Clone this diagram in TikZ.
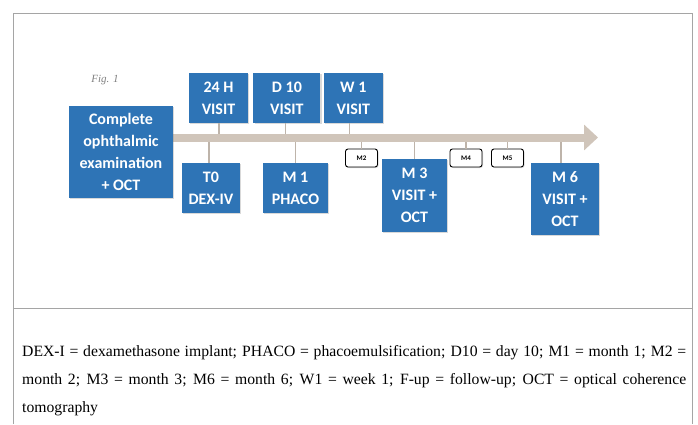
\documentclass[tikz,border=0pt]{standalone}
\usepackage{fontspec}
\setmainfont{Liberation Serif}
\newfontfamily\boxfont{Carlito}
\usetikzlibrary{positioning,shadows,arrows.meta}

\definecolor{visitBlue}{RGB}{46,116,182}
\definecolor{timeTan}{RGB}{208,197,186}
\definecolor{tickTan}{RGB}{190,180,170}
\definecolor{frameGray}{RGB}{165,165,165}

\tikzset{
    visit/.style = {rectangle, fill=visitBlue, text=white,
        inner sep=0pt, align=center,
        font=\boxfont\bfseries\fontsize{16}{22}\selectfont,
        drop shadow={opacity=0.3, shadow xshift=1.2pt, shadow yshift=-1.2pt}},
    monthTag/.style = {rectangle, rounded corners=2.5pt, draw=black,
        line width=0.9pt, fill=white, inner sep=0pt,
        minimum width=32pt, minimum height=18pt,
        font=\boxfont\bfseries\fontsize{7}{8}\selectfont,
        drop shadow={opacity=0.3, shadow xshift=1pt, shadow yshift=-1pt}},
    tick/.style = {draw=tickTan, line width=1.3pt},
    timeline/.style = {draw=timeTan, line width=8pt,
        -{Triangle[length=14pt,width=25pt]}},
}
\tikzstyle{frame} = [draw=frameGray, line width=1pt]

\begin{document}
\begin{tikzpicture}[x=1pt, y=-1pt]
    \useasboundingbox (0,0) rectangle (698,424);

    % frame of the figure
    \draw [frame] (13.5,424) |- (692.5,13.5) -- (692.5,424);
    \draw [frame] (13.5,308.5) -- (692.5,308.5);

    \node (figLabel) at (105,80) [font=\itshape\fontsize{11}{12}\selectfont, text=gray] {Fig. 1};

    % time line
    \coordinate (lineStart) at (150,137.5);
    \coordinate (lineEnd) at (598,137.5);
    \coordinate (barTop) at (0,133.5);
    \coordinate (barBottom) at (0,141.5);
    \draw [timeline] (lineStart) -- (lineEnd);

    % visit blocks
    \node (exam) [visit, minimum width=104pt, minimum height=92pt] at (121,152) {Complete\\ophthalmic\\examination\\+ OCT};

    \node (hourVisit) [visit, minimum width=59pt, minimum height=50pt] at (218.5,98) {24 H\\VISIT};
    \node (dayVisit) [visit, minimum width=67pt, minimum height=50pt, right=5pt of hourVisit] {D 10\\VISIT};
    \node (weekVisit) [visit, minimum width=59pt, minimum height=50pt, right=3pt of dayVisit] {W 1\\VISIT};

    \node (dexInj) [visit, minimum width=58pt, minimum height=50pt] at (211,188) {T0\\DEX-IV};
    \node (phaco) [visit, minimum width=65pt, minimum height=50pt] at (295.5,188) {M 1\\PHACO};
    \node (monthThree) [visit, minimum width=65pt, minimum height=73pt] at (414.5,195.5) {M 3\\VISIT +\\OCT};
    \node (monthSix) [visit, minimum width=68pt, minimum height=72pt] at (565,199) {M 6\\VISIT +\\OCT};

    % follow-up tags
    \node (monthTwo) [monthTag] at (361.5,158) {M2};
    \node (monthFour) [monthTag] at (466,158) {M4};
    \node (monthFive) [monthTag] at (507.5,158) {M5};

    %% ticks to the time line
    \draw [tick] ([xshift=0.5pt]hourVisit.south) -- ([xshift=0.5pt]hourVisit.south |- barTop);
    \draw [tick] ([xshift=-1.5pt]dayVisit.south) -- ([xshift=-1.5pt]dayVisit.south |- barTop);
    \draw [tick] ([xshift=-3.5pt]weekVisit.south) -- ([xshift=-3.5pt]weekVisit.south |- barTop);
    \draw [tick] ([xshift=-2pt]dexInj.north) -- ([xshift=-2pt]dexInj.north |- barBottom);
    \draw [tick] (phaco.north) -- (phaco.north |- barBottom);
    \draw [tick] (monthThree.north) -- (monthThree.north |- barBottom);
    \draw [tick] ([xshift=-4pt]monthSix.north) -- ([xshift=-4pt]monthSix.north |- barBottom);
    \draw [tick] (monthTwo.north) -- (monthTwo.north |- barBottom);
    \draw [tick] (monthFour.north) -- (monthFour.north |- barBottom);
    \draw [tick] (monthFive.north) -- (monthFive.north |- barBottom);

    % legend
    \node (legend) [anchor=north west, text width=664pt, align=justify, inner sep=0pt,
        font=\fontsize{15.7}{28}\selectfont] at (22,345)
        {\hyphenpenalty=10000 \exhyphenpenalty=10000
        DEX-I = dexamethasone implant; PHACO = phacoemulsification; D10 = day 10; M1 = month 1; M2 =\linebreak
        month 2; M3 = month 3; M6 = month 6; W1 = week 1; F-up = follow-up; OCT = optical coherence\linebreak
        tomography};
\end{tikzpicture}
\end{document}
